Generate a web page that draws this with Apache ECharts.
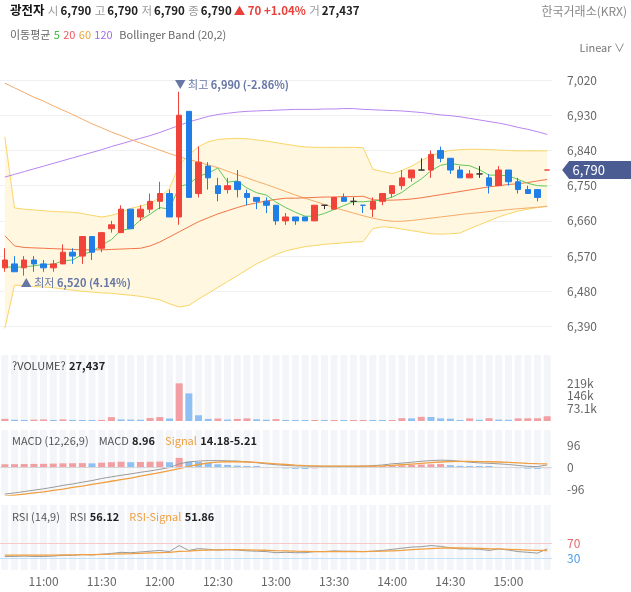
<!DOCTYPE html>
<html>
<head>
<meta charset="utf-8">
<script src="https://cdn.jsdelivr.net/npm/echarts@6/dist/echarts.min.js"></script>
<style>
  html, body { margin: 0; padding: 0; background: #fff; }
  #chart { width: 631px; height: 592px; }
</style>
</head>
<body>
<div id="chart"></div>
<script>
// 5분봉 시간
const times = ['10:40','10:45','10:50','10:55','11:00','11:05','11:10','11:15','11:20','11:25',
  '11:30','11:35','11:40','11:45','11:50','11:55','12:00','12:05','12:10','12:15',
  '12:20','12:25','12:30','12:35','12:40','12:45','12:50','12:55','13:00','13:05',
  '13:10','13:15','13:20','13:25','13:30','13:35','13:40','13:45','13:50','13:55',
  '14:00','14:05','14:10','14:15','14:20','14:25','14:30','14:35','14:40','14:45',
  '14:50','14:55','15:00','15:05','15:10','15:15','15:20'];

const openP = [6540,6550,6540,6560,6550,6540,6550,6580,6570,6620,
  6590,6640,6630,6690,6670,6690,6710,6730,6670,6940,
  6730,6800,6750,6740,6760,6730,6720,6710,6700,6660,
  6670,6670,6660,6700,6690,6720,6710,6700,6690,6710,
  6730,6750,6770,6790,6790,6840,6820,6790,6770,6780,
  6770,6750,6790,6760,6740,6740,6790];
const closeP = [6560,6530,6560,6550,6540,6550,6580,6570,6620,6580,
  6630,6650,6690,6640,6690,6710,6730,6670,6930,6720,
  6810,6770,6730,6750,6740,6720,6710,6700,6660,6670,
  6660,6660,6700,6700,6720,6710,6710,6700,6710,6730,
  6750,6770,6790,6790,6830,6820,6790,6770,6780,6780,
  6750,6790,6760,6740,6730,6720,6790];
const lowP = [6530,6530,6520,6530,6530,6530,6550,6550,6550,6560,
  6580,6630,6630,6640,6660,6680,6690,6670,6650,6720,
  6720,6740,6710,6730,6720,6700,6690,6680,6650,6650,
  6650,6660,6660,6690,6690,6710,6700,6680,6670,6700,
  6720,6740,6760,6790,6770,6810,6780,6770,6770,6770,
  6730,6750,6750,6730,6730,6710,6790];
const highP = [6590,6570,6570,6570,6560,6560,6600,6590,6620,6620,
  6630,6660,6700,6690,6700,6730,6760,6740,6990,6940,
  6850,6810,6770,6770,6790,6740,6720,6720,6700,6680,
  6670,6670,6700,6700,6720,6730,6720,6700,6720,6730,
  6750,6790,6790,6820,6840,6850,6820,6800,6790,6800,
  6780,6800,6790,6770,6750,6740,6790];

// 이동평균
const ma5 = [6543,6541,6543,6545,6549,6549,6558,6560,6574,6582,
  6598,6612,6636,6640,6662,6677,6694,6690,6748,6754,
  6774,6782,6795,6759,6762,6744,6732,6726,6708,6694,
  6682,6672,6672,6679,6689,6699,6709,6709,6711,6713,
  6721,6733,6751,6767,6788,6802,6807,6803,6801,6791,
  6777,6777,6775,6766,6756,6750,6749];
const ma20 = [6622,6596,6592,6591,6590,6589,6588,6587,6586,6586,
  6586,6587,6588,6589,6590,6596,6606,6619,6632,6645,
  6658,6668,6678,6686,6694,6701,6706,6711,6715,6718,
  6718,6719,6720,6721,6721,6722,6722,6723,6714,6713,
  6713,6714,6716,6719,6723,6727,6731,6735,6739,6743,
  6747,6750,6753,6755,6758,6762,6766];
const ma60 = [7012,7000,6988,6976,6966,6954,6943,6932,6920,6908,
  6898,6887,6878,6868,6859,6850,6841,6832,6824,6817,
  6810,6803,6796,6787,6778,6770,6761,6753,6744,6735,
  6726,6718,6710,6702,6694,6687,6680,6673,6667,6662,
  6659,6659,6661,6664,6667,6670,6673,6676,6679,6681,
  6684,6686,6689,6691,6693,6695,6697];
const ma120 = [6772,6779,6786,6793,6800,6807,6814,6821,6828,6835,
  6842,6850,6857,6864,6871,6878,6886,6895,6904,6913,
  6920,6927,6932,6935,6938,6940,6941,6942,6943,6944,
  6945,6945,6945,6946,6946,6947,6947,6945,6944,6943,
  6942,6941,6939,6937,6934,6931,6929,6926,6922,6918,
  6914,6910,6905,6899,6894,6888,6881];

// 볼린저밴드 (20,2)
const bbUpper = [6875,6693,6690,6688,6686,6684,6683,6682,6679,6674,
  6670,6674,6682,6692,6698,6705,6720,6743,6803,6828,
  6850,6862,6868,6870,6871,6870,6867,6864,6860,6856,
  6852,6849,6848,6848,6848,6848,6848,6847,6792,6786,
  6781,6789,6800,6814,6827,6835,6840,6842,6843,6843,
  6842,6841,6840,6839,6839,6839,6839];
const bbLower = [6385,6496,6494,6492,6491,6489,6486,6483,6480,6478,
  6476,6475,6472,6470,6467,6463,6458,6448,6440,6444,
  6460,6475,6490,6505,6520,6535,6550,6562,6574,6583,
  6589,6594,6597,6600,6602,6604,6606,6607,6640,6645,
  6643,6639,6635,6631,6627,6626,6627,6629,6640,6650,
  6660,6670,6678,6685,6690,6694,6698];

// 거래량
const volume = [12480,7210,6350,8120,9040,6020,9310,6150,5230,4180,
  6270,22350,9140,8060,7120,17240,22610,14380,218420,160150,
  33270,12160,14050,8230,12310,15120,10040,7150,11060,5120,
  4210,3180,5040,3090,5120,3050,3560,4480,3020,2510,
  5130,16240,15080,24310,23150,15060,13020,4120,15230,7040,
  16120,8150,7060,15210,15540,16030,27437];

// MACD (12,26,9)
const macdLine = [-118,-113,-107,-101,-95,-88,-80,-74,-66,-59,
  -50,-43,-36,-30,-23,-17,-10,-2,14,22,
  26,28,28,27,26,23,19,14,10,7,
  5,4,3,3,3,3,3,4,6,9,
  14,17,21,25,28,30,29,25,21,18,
  16,14,11,7,3,2,8.96];
const macdSignal = [-127,-123,-118,-113,-108,-102,-96,-89,-83,-76,
  -69,-62,-55,-48,-40,-32,-24,-16,-7,3,
  11,18,21,23,23,22,20,17,14,11,
  8,6,5,4,4,4,4,4,4,5,
  7,10,13,16,19,22,24,25,25,24,
  23,22,20,18,16,15,14.18];
const macdHist = [12,12.5,13,13.5,14,15,16,16.5,17,16,
  19,21,23,21,22,23,24,21,40,24,
  22,18,12,9,6,3,1,-1,-4,-6,
  -8,-8.5,-6,-4,-2,-1,0,0.5,1,2,
  4,7,9,11,12,13,8,5,2,1,
  0,-1,-2,-5,-7,-8,-5.21];

// RSI (14,9)
const rsi = [36,36,37,36,36,37,39,39,41,40,
  42,44,47,46,48,50,52,49,65,52,
  57,55,53,54,53,51,50,49,46,47,
  46,46,49,49,51,50,50,49,50,52,
  55,58,61,62,65,63,59,56,56,55,
  52,56,53,49,47,45,56.12];
const rsiSignal = [39.5,39.5,39.5,39.5,39.6,39.7,40,40.3,40.7,41,
  41.5,42,43,43.5,44.5,45.5,46.5,47,49.5,50.5,
  52,53,53.5,54,54,53.5,53,52.5,51.5,51,
  50,49.5,49,49,49,49,49,49,49.5,50,
  51,52,54,55.5,57,58,58.5,58.5,58,57.5,
  56.5,56,55,54,53,52,51.86];

// 눈금
const priceTicks = [6390, 6480, 6570, 6660, 6750, 6840, 6930, 7020];
const volTicks = [73100, 146200, 219300];
const volTickLabels = ['73.1k', '146k', '219k'];
const macdTicks = [-96, 0, 96];
const rsiTicks = [30, 70];

const UP = '#f0433a', DOWN = '#1f7fe6', DOJI = '#333';
const VUP = '#f19fa2', VDOWN = '#8ec0f3';
const FONT = "'Noto Sans CJK KR', 'Noto Sans', sans-serif";
const fmt = v => v.toLocaleString('en-US');

const last = times.length - 1;
const lastClose = closeP[last];

const candleData = times.map((t, i) => {
  const o = openP[i], c = closeP[i];
  const item = { value: [o, c, lowP[i], highP[i]] };
  if (o === c) {
    const prev = i > 0 ? closeP[i - 1] : c;
    const col = c > prev ? UP : (c < prev ? DOWN : DOJI);
    item.itemStyle = { color: col, color0: col, borderColor: col, borderColor0: col, borderColorDoji: col };
  }
  return item;
});

let hiIdx = 0, loIdx = 0;
highP.forEach((v, i) => { if (v > highP[hiIdx]) hiIdx = i; });
lowP.forEach((v, i) => { if (v < lowP[loIdx]) loIdx = i; });
const pct = v => ((lastClose - v) / v * 100).toFixed(2) + '%';

const volData = volume.map((v, i) => ({
  value: v,
  itemStyle: { color: (i === 0 || v >= volume[i - 1]) ? VUP : VDOWN }
}));
const histData = macdHist.map((v, i) => ({
  value: v,
  itemStyle: { color: (i === 0 || v >= macdHist[i - 1]) ? VUP : VDOWN }
}));
const bbDiff = bbUpper.map((v, i) => v - bbLower[i]);
const zeros = times.map(() => 0);

const gridBox = { left: -4, width: 556 };
const stripe = { color: '#f3f5f9' };
const lineSeries = (name, data, color, xi, yi, width) => ({
  name, type: 'line', data, xAxisIndex: xi, yAxisIndex: yi,
  symbol: 'none', smooth: false, silent: true,
  lineStyle: { color, width: width || 1 }, z: 3
});
const txt = (size, fill, bold) => ({ fill, fontSize: size, fontWeight: bold ? 'bold' : 'normal', fontFamily: FONT });

const chart = echarts.init(document.getElementById('chart'));

chart.setOption({
  animation: false,
  textStyle: { fontFamily: FONT },
  grid: [
    Object.assign({ top: 55, height: 295 }, gridBox),
    Object.assign({ top: 355, height: 66 }, gridBox),
    Object.assign({ top: 430, height: 65 }, gridBox),
    Object.assign({ top: 505, height: 65 }, gridBox)
  ],
  xAxis: [0, 1, 2, 3].map(g => ({
    type: 'category', gridIndex: g, data: times, boundaryGap: true,
    axisLine: { show: false }, axisTick: { show: false },
    axisLabel: g === 3 ? {
      show: true, color: '#666', fontSize: 12, margin: 5,
      interval: (idx, val) => /:(00|30)$/.test(val)
    } : { show: false },
    splitLine: { show: false }
  })),
  yAxis: [
    {
      gridIndex: 0, position: 'right', min: 6330, max: 7084,
      axisLine: { show: false },
      axisTick: { show: false, customValues: priceTicks },
      axisLabel: { customValues: priceTicks, formatter: v => fmt(v), color: '#666', fontSize: 12, margin: 15 },
      splitLine: { show: true, lineStyle: { color: '#f0f0f0' } }
    },
    {
      gridIndex: 1, position: 'right', min: 0, max: 383000,
      axisLine: { show: false },
      axisTick: { show: false, customValues: volTicks },
      axisLabel: { customValues: volTicks, formatter: v => volTickLabels[volTicks.indexOf(v)], color: '#666', fontSize: 12, margin: 15 },
      splitLine: { show: false }
    },
    {
      gridIndex: 2, position: 'right', min: -122, max: 161.5,
      axisLine: { show: false },
      axisTick: { show: false, customValues: macdTicks },
      axisLabel: { customValues: macdTicks, formatter: v => String(v), color: '#666', fontSize: 12, margin: 15 },
      splitLine: { show: false }
    },
    {
      gridIndex: 3, position: 'right', min: 0, max: 173,
      axisLine: { show: false },
      axisTick: { show: false, customValues: rsiTicks },
      axisLabel: {
        customValues: rsiTicks, fontSize: 12, margin: 15,
        formatter: v => v === 70 ? '{r|70}' : '{b|30}',
        rich: { r: { color: '#e8676c', fontSize: 12 }, b: { color: '#4a9fe8', fontSize: 12 } }
      },
      splitLine: { show: false }
    }
  ],
  series: [
    // 볼린저밴드 영역
    { type: 'line', data: bbLower, stack: 'bb', symbol: 'none', silent: true,
      lineStyle: { opacity: 0 }, z: 1 },
    { type: 'line', data: bbDiff, stack: 'bb', symbol: 'none', silent: true,
      lineStyle: { opacity: 0 }, areaStyle: { color: '#fff7df', opacity: 1 }, z: 1 },
    lineSeries('bbU', bbUpper, '#f8d567', 0, 0),
    lineSeries('bbL', bbLower, '#f8d567', 0, 0),
    lineSeries('MA120', ma120, '#b884f0', 0, 0),
    lineSeries('MA60', ma60, '#f5ac6a', 0, 0),
    lineSeries('MA20', ma20, '#f27548', 0, 0),
    lineSeries('MA5', ma5, '#5fc95f', 0, 0),
    {
      type: 'candlestick', data: candleData, barWidth: 6, z: 4,
      itemStyle: { color: UP, color0: DOWN, borderColor: UP, borderColor0: DOWN, borderColorDoji: DOJI, borderWidth: 1 },
      markPoint: {
        silent: true, animation: false,
        data: [
          {
            coord: [hiIdx, highP[hiIdx]], symbol: 'circle', symbolSize: 1,
            itemStyle: { color: 'rgba(0,0,0,0)' },
            label: {
              show: true, position: [-4, -12], align: 'left', verticalAlign: 'top',
              formatter: '{a|▼ 최고 }{b|' + fmt(highP[hiIdx]) + ' (' + pct(highP[hiIdx]) + ')}',
              rich: { a: { color: '#6677a6', fontSize: 11 }, b: { color: '#6677a6', fontSize: 11, fontWeight: 'bold' } }
            }
          },
          {
            coord: [loIdx, lowP[loIdx]], symbol: 'circle', symbolSize: 1,
            itemStyle: { color: 'rgba(0,0,0,0)' },
            label: {
              show: true, position: [-3, 2], align: 'left', verticalAlign: 'top',
              formatter: '{a|▲ 최저 }{b|' + fmt(lowP[loIdx]) + ' (' + pct(lowP[loIdx]) + ')}',
              rich: { a: { color: '#6677a6', fontSize: 11 }, b: { color: '#6677a6', fontSize: 11, fontWeight: 'bold' } }
            }
          },
          {
            coord: [last, lastClose], symbol: 'path://M0,9L7,0L69,0L69,18L7,18Z',
            symbolSize: [69, 18], symbolKeepAspect: false, symbolOffset: [49.5, 0],
            itemStyle: { color: '#4b5c92' },
            label: { show: true, position: 'inside', offset: [-8, 0], formatter: fmt(lastClose), color: '#fff', fontSize: 13 }
          }
        ]
      }
    },
    // 거래량
    {
      type: 'bar', xAxisIndex: 1, yAxisIndex: 1, data: volData, barWidth: 7, barMinHeight: 1,
      showBackground: true, backgroundStyle: stripe, silent: true
    },
    // MACD
    {
      type: 'bar', xAxisIndex: 2, yAxisIndex: 2, data: histData, barWidth: 7, barMinHeight: 1,
      showBackground: true, backgroundStyle: stripe, silent: true,
      markLine: { silent: true, symbol: 'none', label: { show: false },
        lineStyle: { color: '#d8d8d8', type: 'solid', width: 1 }, data: [{ yAxis: 0 }] }
    },
    lineSeries('MACD', macdLine, '#9a9a9a', 2, 2),
    lineSeries('Signal', macdSignal, '#f0a040', 2, 2, 1.3),
    // RSI
    {
      type: 'bar', xAxisIndex: 3, yAxisIndex: 3, data: zeros, barWidth: 7,
      showBackground: true, backgroundStyle: stripe, silent: true,
      markLine: { silent: true, symbol: 'none', label: { show: false },
        data: [
          { yAxis: 70, lineStyle: { color: '#f7c9cb', type: 'solid', width: 1 } },
          { yAxis: 30, lineStyle: { color: '#c4e0f7', type: 'solid', width: 1 } }
        ] }
    },
    lineSeries('RSI', rsi, '#9a9a9a', 3, 3),
    lineSeries('RSI-Signal', rsiSignal, '#f0a040', 3, 3, 1.3)
  ],
  graphic: [
    {
      type: 'text', left: 10, top: 4, z: 100, silent: true,
      style: {
        text: '{n|광전자} {g|시}{b|' + fmt(openP[last]) + '} {g|고}{b|' + fmt(highP[last]) + '} {g|저}{b|' + fmt(lowP[last]) +
          '} {g|종}{b|' + fmt(closeP[last]) + '}{r|▲ 70 +1.04%} {g|거}{b|' + fmt(volume[last]) + '}',
        rich: {
          n: txt(12.5, '#111', true),
          g: Object.assign(txt(11.5, '#999'), { padding: [0, 2, 0, 0] }),
          b: txt(11.5, '#222', true),
          r: Object.assign(txt(11.5, '#e8403a', true), { padding: [0, 0, 0, 2] })
        }
      }
    },
    {
      type: 'text', right: 4, top: 5, z: 100, silent: true,
      style: { text: '한국거래소(KRX)', fill: '#888', fontSize: 12, fontFamily: FONT }
    },
    {
      type: 'text', left: 10, top: 29, z: 100, silent: true,
      style: {
        text: '{g|이동평균} {a|5} {b|20} {c|60} {d|120}  {g|Bollinger Band (20,2)}',
        rich: {
          g: txt(11, '#666'),
          a: txt(11, '#3fba3f'),
          b: txt(11, '#f0555c'),
          c: txt(11, '#f0a43a'),
          d: txt(11, '#a46ceb')
        }
      }
    },
    {
      type: 'text', right: 6, top: 42, z: 100, silent: true,
      style: { text: 'Linear ∨', fill: '#777', fontSize: 11, fontFamily: FONT }
    },
    {
      type: 'text', left: 12, top: 360, z: 100, silent: true,
      style: {
        text: '{g|?VOLUME?} {b|' + fmt(volume[last]) + '}',
        rich: { g: txt(11, '#444'), b: txt(11, '#222', true) }
      }
    },
    {
      type: 'text', left: 12, top: 435, z: 100, silent: true,
      style: {
        text: '{g|MACD (12,26,9)}   {g|MACD} {b|' + macdLine[last] + '}   {o|Signal} {b|' + macdSignal[last] + macdHist[last] + '}',
        rich: { g: txt(11, '#555'), o: txt(11, '#f0a040'), b: txt(11, '#222', true) }
      }
    },
    {
      type: 'text', left: 12, top: 511, z: 100, silent: true,
      style: {
        text: '{g|RSI (14,9)}   {g|RSI} {b|' + rsi[last] + '}   {o|RSI-Signal} {b|' + rsiSignal[last] + '}',
        rich: { g: txt(11, '#555'), o: txt(11, '#f0a040'), b: txt(11, '#222', true) }
      }
    }
  ]
});
</script>
</body>
</html>
